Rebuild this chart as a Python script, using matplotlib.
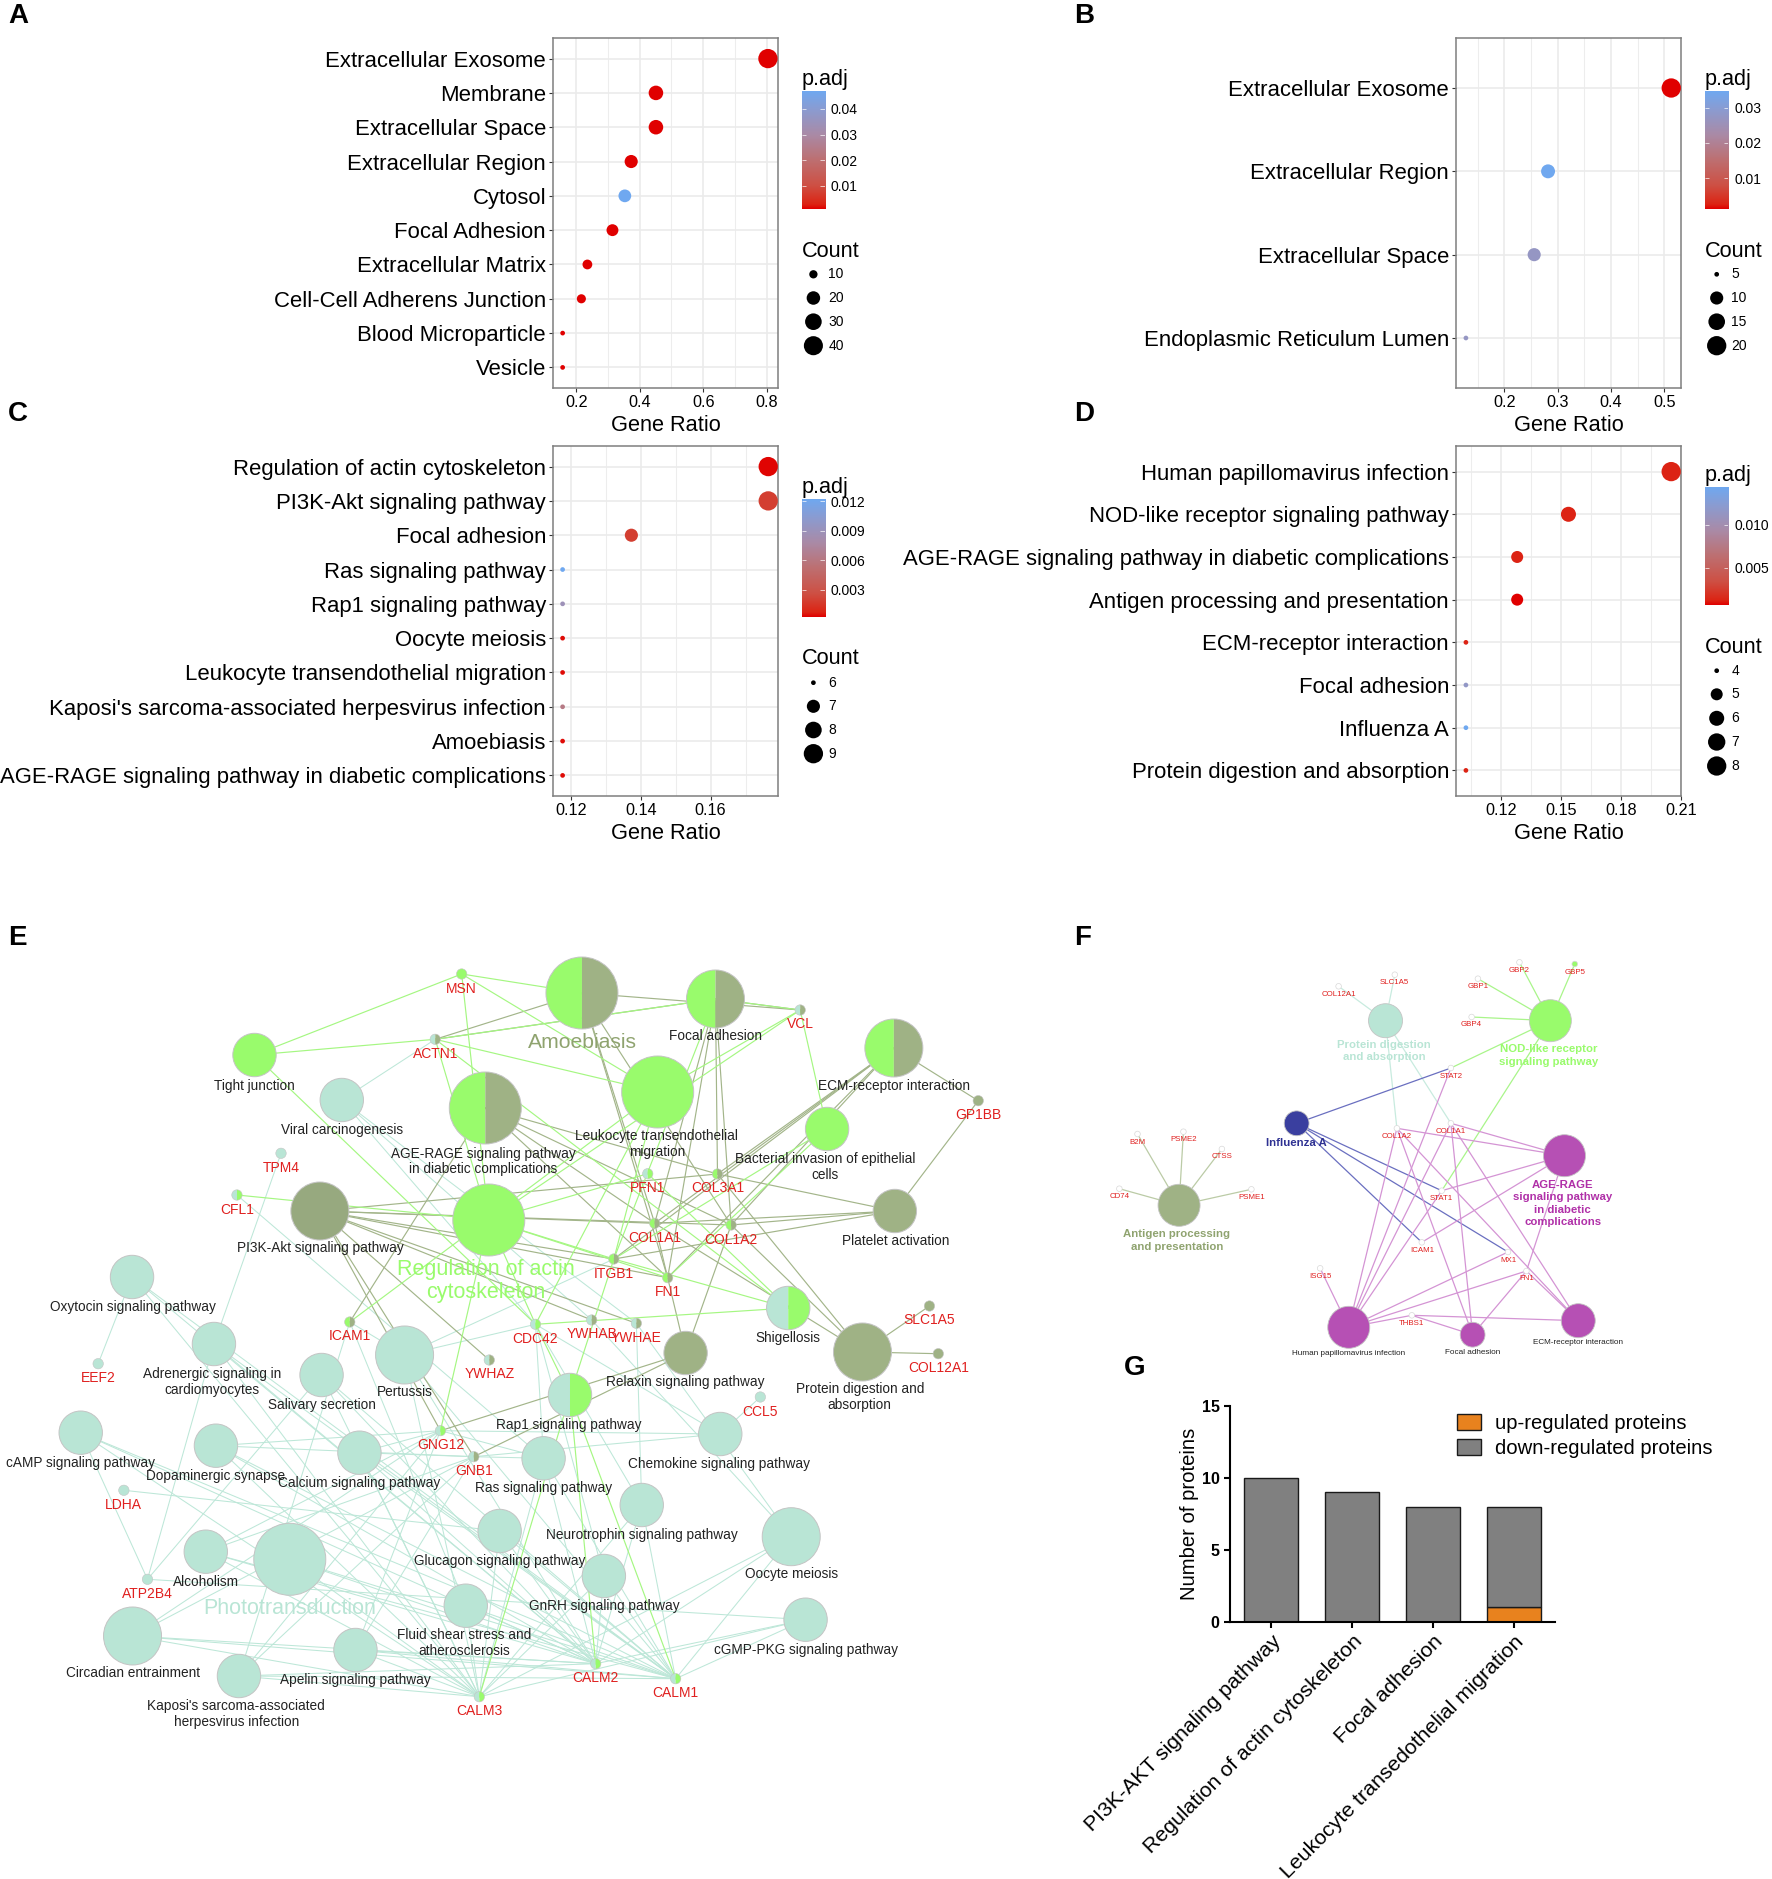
import matplotlib
matplotlib.use('Agg')
import matplotlib.pyplot as plt
import numpy as np
from matplotlib.colors import LinearSegmentedColormap
from matplotlib.patches import Circle, Wedge
from matplotlib.ticker import FixedLocator

plt.rcParams['font.family'] = ['Liberation Sans', 'DejaVu Sans']

W, H = 1772, 1879
RED_BLUE = LinearSegmentedColormap.from_list('padj', [
    (0.0, '#E00000'), (0.04, '#DC2414'), (0.2, '#CE5044'), (0.42, '#BD7072'),
    (0.63, '#AA8AA6'), (0.85, '#8A9CD2'), (1.0, '#6FA8F0')])

# ---- dot plots ----
A_TERMS = ['Extracellular Exosome', 'Membrane', 'Extracellular Space', 'Extracellular Region', 'Cytosol',
           'Focal Adhesion', 'Extracellular Matrix', 'Cell-Cell Adherens Junction', 'Blood Microparticle', 'Vesicle']
A_RATIO = [0.804, 0.451, 0.451, 0.373, 0.353, 0.314, 0.235, 0.216, 0.157, 0.157]
A_COUNT = [41, 23, 23, 19, 18, 16, 12, 11, 8, 8]
A_PADJ = [0.0009, 0.0009, 0.0009, 0.0009, 0.047, 0.0009, 0.0009, 0.0009, 0.0009, 0.0009]

B_TERMS = ['Extracellular Exosome', 'Extracellular Region', 'Extracellular Space', 'Endoplasmic Reticulum Lumen']
B_RATIO = [0.513, 0.282, 0.256, 0.128]
B_COUNT = [20, 11, 10, 5]
B_PADJ = [0.0012, 0.0345, 0.027, 0.027]

C_TERMS = ['Regulation of actin cytoskeleton', 'PI3K-Akt signaling pathway', 'Focal adhesion',
           'Ras signaling pathway', 'Rap1 signaling pathway', 'Oocyte meiosis',
           'Leukocyte transendothelial migration', "Kaposi's sarcoma-associated herpesvirus infection",
           'Amoebiasis', 'AGE-RAGE signaling pathway in diabetic complications']
C_RATIO = [0.1765, 0.1765, 0.1373, 0.1176, 0.1176, 0.1176, 0.1176, 0.1176, 0.1176, 0.1176]
C_COUNT = [9, 9, 7, 6, 6, 6, 6, 6, 6, 6]
C_PADJ = [0.0003, 0.0019, 0.0019, 0.0122, 0.0088, 0.0004, 0.0004, 0.0062, 0.0004, 0.0004]

D_TERMS = ['Human papillomavirus infection', 'NOD-like receptor signaling pathway',
           'AGE-RAGE signaling pathway in diabetic complications', 'Antigen processing and presentation',
           'ECM-receptor interaction', 'Focal adhesion', 'Influenza A', 'Protein digestion and absorption']
D_RATIO = [0.2051, 0.1538, 0.1282, 0.1282, 0.1026, 0.1026, 0.1026, 0.1026]
D_COUNT = [8, 6, 5, 5, 4, 4, 4, 4]
D_PADJ = [0.0012, 0.0012, 0.0012, 0.0006, 0.0012, 0.0115, 0.0143, 0.0012]

# ---- bar chart ----
G_TERMS = ['PI3K-AKT signaling pathway', 'Regulation of actin cytoskeleton',
           'Focal adhesion', 'Leukocyte transedothelial migration']
G_UP = [0, 0, 0, 1]
G_DOWN = [10, 9, 8, 7]

# ---- network E ----
E_NAMES = ['Amoebiasis', 'Focal adhesion', 'Tight junction', 'Viral carcinogenesis', 'AGE-RAGE', 'Leukocyte',
           'ECM', 'Bacterial', 'PI3K', 'Regulation', 'Platelet', 'Oxytocin', 'Adrenergic', 'Salivary',
           'Pertussis', 'Shigellosis', 'Relaxin', 'Protein', 'Rap1', 'cAMP', 'Dopaminergic', 'Calcium',
           'Ras', 'Chemokine', 'Neurotrophin', 'Glucagon', 'Alcoholism', 'Phototransduction', 'Oocyte',
           'GnRH', 'Fluid', 'cGMP', 'Circadian', 'Apelin', 'Kaposi']
E_X = [584, 718, 255.4, 343, 487, 660, 897, 830, 321, 490.5, 898, 132.5, 214.7, 322.7, 406, 791, 688, 865.5,
       572, 81, 216.7, 360.7, 545.5, 722.8, 644, 501.4, 206.5, 290.8, 794, 606, 467.4, 808.4, 133, 356.7, 239.8]
E_Y = [993, 999, 1055, 1100, 1108, 1092, 1048, 1129, 1211, 1220, 1211, 1277, 1344, 1375, 1355, 1308, 1353, 1352,
       1395, 1432.7, 1445.7, 1452.7, 1458.3, 1434, 1505, 1531, 1551.7, 1559.3, 1536.7, 1576, 1605.7, 1619.7,
       1636, 1650, 1676]
E_R = [36, 29, 21.7, 21.7, 36, 36, 29, 21.7, 29, 36, 21.7, 21.7, 21.7, 21.7, 29, 21.7, 21.7, 29,
       21.7, 21.7, 21.7, 21.7, 21.7, 21.7, 21.7, 21.7, 21.7, 36, 29, 21.7, 21.7, 21.7, 29, 21.7, 21.7]
E_FILL = ['go', 'go', 'g', 't', 'go', 'g', 'go', 'g', 'd', 'g', 'o', 't', 't', 't', 't', 'tg', 'o', 'o',
          'tg', 't', 't', 't', 't', 't', 't', 't', 't', 't', 't', 't', 't', 't', 't', 't', 't']

E_LABELS = ['Tight junction', 'Viral carcinogenesis', 'AGE-RAGE signaling pathway\nin diabetic complications',
            'Focal adhesion', 'ECM-receptor interaction', 'Leukocyte transendothelial\nmigration',
            'Bacterial invasion of epithelial\ncells', 'PI3K-Akt signaling pathway', 'Platelet activation',
            'Oxytocin signaling pathway', 'Adrenergic signaling in\ncardiomyocytes', 'Pertussis',
            'Salivary secretion', 'Shigellosis', 'Relaxin signaling pathway', 'Protein digestion and\nabsorption',
            'Rap1 signaling pathway', 'cAMP signaling pathway', 'Dopaminergic synapse', 'Calcium signaling pathway',
            'Ras signaling pathway', 'Chemokine signaling pathway', 'Neurotrophin signaling pathway',
            'Glucagon signaling pathway', 'Alcoholism', 'Oocyte meiosis', 'GnRH signaling pathway',
            'Fluid shear stress and\natherosclerosis', 'cGMP-PKG signaling pathway', 'Circadian entrainment',
            'Apelin signaling pathway', "Kaposi's sarcoma-associated\nherpesvirus infection"]
E_LABEL_X = [255.4, 343, 485, 718, 897, 659, 828, 321, 899, 133, 212.6, 406, 322.7, 791, 687.5, 862.8, 571, 81,
             216.7, 360.7, 545.5, 722, 644, 501.4, 206.5, 794, 606, 465.4, 808.4, 133, 356.7, 237]
E_LABEL_Y = [1085.7, 1129.7, 1161.7, 1036, 1085.7, 1144, 1167, 1248, 1241, 1307, 1382, 1392, 1405, 1338, 1382, 1397,
             1425, 1462.7, 1476, 1483, 1488, 1463.7, 1534.7, 1560.7, 1582, 1574, 1605.7, 1643, 1650, 1673, 1680, 1714]

E_GENES = ['MSN', 'ACTN1', 'VCL', 'TPM4', 'CFL1', 'PFN1', 'COL3A1', 'COL1A1', 'COL1A2', 'GP1BB', 'ITGB1', 'FN1',
           'ICAM1', 'CDC42', 'YWHAB', 'YWHAE', 'YWHAZ', 'SLC1A5', 'COL12A1', 'EEF2', 'CCL5', 'GNG12', 'GNB1',
           'LDHA', 'ATP2B4', 'CALM2', 'CALM1', 'CALM3']
E_GENE_X = [463.3, 436.8, 803, 282, 237.8, 650, 720, 657, 733.7, 981.7, 616, 670, 351, 537.4, 593.8, 638.6, 491,
            932.7, 941.6, 98.5, 763, 442, 475.5, 124.3, 148, 597.8, 678, 481]
E_GENE_Y = [974, 1039.3, 1010, 1153.3, 1195, 1173.7, 1174, 1223.3, 1225, 1100.7, 1259, 1277.7, 1322, 1324.3, 1320,
            1323.3, 1360, 1306, 1353.7, 1363.7, 1397, 1430.7, 1456.7, 1490.3, 1579.3, 1663.7, 1678.7, 1696.7]
E_GENE_FILL = ['g', 'to', 'to', 't', 'tg', 'tg', 'go', 'go', 'go', 'o', 'go', 'go', 'go', 'tg', 'to', 'to', 'to',
               'o', 'o', 't', 't', 'tg', 'to', 't', 't', 'tg', 'tg', 'tg']

CALMS = ['CALM1', 'CALM2', 'CALM3']
E_EDGES_GREEN = {
    'Tight junction': ['MSN', 'ACTN1', 'CDC42'],
    'Regulation': ['MSN', 'ACTN1', 'VCL', 'PFN1', 'CFL1', 'ITGB1', 'FN1', 'CDC42', 'GNG12'],
    'Leukocyte': ['MSN', 'ACTN1', 'VCL', 'ITGB1', 'CDC42', 'ICAM1'],
    'Bacterial': ['VCL', 'ITGB1', 'FN1'],
    'Shigellosis': ['CDC42', 'ITGB1', 'PFN1', 'ACTN1'],
    'Rap1': ['CDC42', 'ITGB1'] + CALMS,
    'Focal adhesion': ['VCL', 'ITGB1', 'ACTN1'],
    'Amoebiasis': ['MSN'],
}
E_EDGES_OLIVE = {
    'Amoebiasis': ['ACTN1', 'VCL', 'COL1A1', 'COL1A2', 'FN1'],
    'Focal adhesion': ['ACTN1', 'VCL', 'COL1A1', 'COL1A2', 'COL3A1', 'FN1'],
    'ECM': ['COL1A1', 'COL1A2', 'COL3A1', 'ITGB1', 'FN1', 'GP1BB'],
    'AGE-RAGE': ['COL1A1', 'COL1A2', 'COL3A1', 'FN1', 'ICAM1'],
    'PI3K': ['COL1A1', 'COL1A2', 'COL3A1', 'ITGB1', 'FN1', 'YWHAB', 'YWHAE', 'YWHAZ', 'GNG12', 'GNB1'],
    'Platelet': ['COL1A1', 'COL1A2', 'COL3A1', 'ITGB1', 'GP1BB'],
    'Relaxin': ['COL1A1', 'COL1A2', 'GNB1', 'GNG12'],
    'Protein': ['COL1A1', 'COL1A2', 'COL3A1', 'COL12A1', 'SLC1A5'],
}
E_EDGES_TEAL = {
    'Viral carcinogenesis': ['ACTN1', 'YWHAB', 'YWHAE', 'CDC42'],
    'Oxytocin': ['EEF2'] + CALMS,
    'Adrenergic': ['TPM4', 'ATP2B4'] + CALMS,
    'Salivary': ['ATP2B4'] + CALMS,
    'Pertussis': ['ICAM1', 'CDC42', 'ITGB1'] + CALMS,
    'cAMP': ['ATP2B4'] + CALMS,
    'Dopaminergic': ['GNG12', 'GNB1'] + CALMS,
    'Calcium': ['GNB1', 'GNG12'] + CALMS,
    'Ras': ['GNG12', 'GNB1', 'CDC42', 'CFL1'] + CALMS,
    'Chemokine': ['CCL5', 'GNG12', 'GNB1', 'CDC42'],
    'Neurotrophin': ['CDC42', 'YWHAE'] + CALMS,
    'Glucagon': ['LDHA'] + CALMS,
    'Alcoholism': ['GNG12', 'GNB1'] + CALMS,
    'Phototransduction': CALMS,
    'Oocyte': ['YWHAB', 'YWHAE'] + CALMS,
    'GnRH': ['CDC42'] + CALMS,
    'Fluid': ['ICAM1'] + CALMS,
    'cGMP': ['ATP2B4'] + CALMS,
    'Circadian': ['GNG12', 'GNB1'] + CALMS,
    'Apelin': ['GNG12', 'GNB1'] + CALMS,
    'Kaposi': ['GNG12', 'GNB1', 'ICAM1'] + CALMS,
}

# ---- network F ----
F_NAMES = ['Protein', 'NOD', 'Influenza', 'AGE-RAGE', 'Antigen', 'HPV', 'Focal', 'ECM']
F_X = [1386.6, 1552, 1297.4, 1566.2, 1179.4, 1349.7, 1474, 1580]
F_Y = [1020.7, 1020.7, 1123.3, 1155.7, 1205.3, 1327.3, 1334.7, 1320.7]
F_R = [17, 21, 12.4, 21, 21, 21, 12.4, 17]
F_COLORS = ['#B9E5D5', '#99FB6C', '#3A3F9F', '#B650B4', '#9FB285', '#B650B4', '#B650B4', '#B650B4']
F_EDGE_COLORS = ['#C8EBDF', '#A9F58A', '#6A6FC0', '#D494D4', '#BBCBA6', '#D494D4', '#D494D4', '#D494D4']

F_GENES = ['COL12A1', 'SLC1A5', 'GBP1', 'GBP2', 'GBP5', 'GBP4', 'STAT2', 'COL1A2', 'COL1A1', 'B2M', 'PSME2', 'CTSS',
           'CD74', 'PSME1', 'STAT1', 'ICAM1', 'MX1', 'FN1', 'ISG15', 'THBS1']
F_GENE_X = [1339.5, 1395.9, 1479.3, 1521, 1576.5, 1473, 1452.2, 1398, 1452.2, 1137.7, 1183.8, 1222.4, 1119.5, 1252,
            1443, 1423, 1509.5, 1528, 1321, 1413]
F_GENE_Y = [986.3, 974.7, 978.7, 962.3, 964, 1017, 1068, 1128.3, 1123.3, 1134, 1131.7, 1149, 1188.7, 1189.3, 1190.7,
            1242.3, 1252, 1271, 1268.3, 1315.3]
F_EDGES = {
    'Protein': ['COL12A1', 'SLC1A5', 'COL1A2', 'COL1A1'],
    'NOD': ['GBP1', 'GBP2', 'GBP4', 'GBP5', 'STAT2', 'STAT1'],
    'Influenza': ['STAT2', 'STAT1', 'ICAM1', 'MX1'],
    'Antigen': ['B2M', 'PSME2', 'CTSS', 'CD74', 'PSME1'],
    'AGE-RAGE': ['COL1A1', 'COL1A2', 'STAT1', 'ICAM1', 'FN1'],
    'HPV': ['ISG15', 'COL1A1', 'COL1A2', 'STAT1', 'STAT2', 'MX1', 'FN1', 'THBS1'],
    'Focal': ['COL1A1', 'COL1A2', 'FN1', 'THBS1'],
    'ECM': ['COL1A1', 'COL1A2', 'FN1', 'THBS1'],
}


def axes_px(fig, left, top, right, bottom, **kw):
    # pixel box of the reference -> figure fractions
    return fig.add_axes([left / W, 1 - bottom / H, (right - left) / W, (bottom - top) / H], **kw)


def dot_size(count, lo, hi):
    # ggplot style area scale, diameter in px turned into points^2
    d = 4.7 + 14.6 * np.sqrt((np.asarray(count, float) - lo) / (hi - lo))
    return (d * 0.72) ** 2


def dot_panel(fig, box, terms, ratio, count, padj, xlim, major, minor, clim, tick_fmt):
    ax = axes_px(fig, *box)
    y = np.arange(len(terms))
    ax.set_axisbelow(True)
    ax.grid(True, which='major', color='#EBEBEB', lw=1.2)
    ax.xaxis.set_minor_locator(FixedLocator(minor))
    ax.grid(True, which='minor', axis='x', color='#EDEDED', lw=0.8)
    ax.scatter(ratio, y, s=dot_size(count, min(count), max(count)), c=padj, cmap=RED_BLUE,
               vmin=clim[0], vmax=clim[1], linewidths=0, clip_on=False, zorder=3)
    ax.set_xlim(*xlim)
    ax.set_ylim(len(terms) - 0.4, -0.6)
    ax.set_yticks(y)
    ax.set_yticklabels(terms, fontsize=15.9)
    ax.set_xticks(major)
    ax.set_xticklabels([tick_fmt % m for m in major], fontsize=11.7)
    ax.tick_params(axis='both', which='major', length=3, width=0.8, color='#333333', pad=2)
    ax.tick_params(axis='x', which='minor', length=0)
    ax.set_xlabel('Gene Ratio', fontsize=15.7, labelpad=3.6)
    for s in ax.spines.values():
        s.set_color('#7F7F7F')
        s.set_linewidth(1.1)
    return ax


def colorbar(fig, box, clim, ticks, tick_fmt):
    ax = axes_px(fig, *box)
    grad = np.linspace(clim[1], clim[0], 256)[:, None]
    ax.imshow(grad, aspect='auto', cmap=RED_BLUE, vmin=clim[0], vmax=clim[1],
              extent=[0, 1, clim[0], clim[1]])
    ax.hlines(ticks, 0, 0.2, color='white', lw=0.6, alpha=0.8)
    ax.hlines(ticks, 0.8, 1, color='white', lw=0.6, alpha=0.8)
    ax.set_xticks([])
    ax.yaxis.tick_right()
    ax.set_yticks(ticks)
    ax.set_yticklabels([tick_fmt % t for t in ticks], fontsize=10)
    ax.tick_params(axis='y', length=0, pad=4.3)
    for s in ax.spines.values():
        s.set_visible(False)


def count_legend(net, x_title, y_title, y_padj, values, ys, lo, hi):
    net.text(x_title, y_padj, 'p.adj', fontsize=15.6, ha='left', va='center')
    net.text(x_title, y_title, 'Count', fontsize=15.7, ha='left', va='center')
    net.scatter([x_title + 11.7] * len(values), ys, s=dot_size(values, lo, hi), c='black', linewidths=0)
    for v, yy in zip(values, ys):
        net.text(x_title + 26.5, yy, str(v), fontsize=10, ha='left', va='center')


def split_node(net, x, y, r, fill, palette, edge='#C4C4C4', lw=0.7, z=4):
    if len(fill) == 1:
        net.add_patch(Circle((x, y), r, fc=palette[fill], ec=edge, lw=lw, zorder=z))
    else:
        net.add_patch(Wedge((x, y), r, 90, 270, fc=palette[fill[0]], ec='none', zorder=z))
        net.add_patch(Wedge((x, y), r, -90, 90, fc=palette[fill[1]], ec='none', zorder=z))
        net.add_patch(Circle((x, y), r, fc='none', ec=edge, lw=lw, zorder=z))


def draw_edges(net, edges, name_xy, gene_xy, color, lw, z=2):
    for term, genes in edges.items():
        tx, ty = name_xy[term]
        for g in genes:
            gx, gy = gene_xy[g]
            net.plot([tx, gx], [ty, gy], color=color, lw=lw, solid_capstyle='round', zorder=z)


fig = plt.figure(figsize=(W / 100, H / 100), dpi=100)

clim_a, clim_b, clim_c, clim_d = (0.0009, 0.047), (0.0012, 0.0347), (0.00022, 0.0122), (0.00063, 0.01435)
dot_panel(fig, (553, 38, 778, 388), A_TERMS, A_RATIO, A_COUNT, A_PADJ, (0.1266, 0.8357),
          [0.2, 0.4, 0.6, 0.8], [0.3, 0.5, 0.7], clim_a, '%.1f')
dot_panel(fig, (1456, 38, 1681, 388), B_TERMS, B_RATIO, B_COUNT, B_PADJ, (0.1094, 0.5313),
          [0.2, 0.3, 0.4, 0.5], [0.15, 0.25, 0.35, 0.45], clim_b, '%.1f')
dot_panel(fig, (553, 446, 778, 796), C_TERMS, C_RATIO, C_COUNT, C_PADJ, (0.11485, 0.1793),
          [0.12, 0.14, 0.16], [0.13, 0.15, 0.17], clim_c, '%.2f')
dot_panel(fig, (1456, 446, 1681, 796), D_TERMS, D_RATIO, D_COUNT, D_PADJ, (0.09765, 0.21),
          [0.12, 0.15, 0.18, 0.21], [0.105, 0.135, 0.165, 0.195], clim_d, '%.2f')

colorbar(fig, (801.7, 91, 825, 209), clim_a, [0.01, 0.02, 0.03, 0.04], '%.2f')
colorbar(fig, (1704.7, 91, 1728.3, 209), clim_b, [0.01, 0.02, 0.03], '%.2f')
colorbar(fig, (801.7, 499.3, 825, 617.3), clim_c, [0.003, 0.006, 0.009, 0.012], '%.3f')
colorbar(fig, (1704.7, 487.3, 1728.3, 605.3), clim_d, [0.005, 0.010], '%.3f')

# bar chart G
ax_g = axes_px(fig, 1230, 1406, 1554.6, 1621.5)
xg = np.arange(len(G_TERMS))
ax_g.bar(xg, G_UP, width=0.663, color='#E8821E', edgecolor='#1A1A1A', lw=1.0, label='up-regulated proteins')
ax_g.bar(xg, G_DOWN, width=0.663, bottom=G_UP, color='#808080', edgecolor='#1A1A1A', lw=1.0,
         label='down-regulated proteins')
ax_g.set_xlim(-0.51, 3.498)
ax_g.set_ylim(0, 15)
ax_g.set_yticks([0, 5, 10, 15])
ax_g.set_yticklabels(['0', '5', '10', '15'], fontsize=11.5, fontweight='bold')
ax_g.set_xticks(xg)
ax_g.set_xticklabels(G_TERMS, fontsize=15.3, rotation=45, ha='right', va='top', rotation_mode='anchor')
ax_g.tick_params(axis='both', length=4.5, width=1.5, pad=3)
ax_g.set_ylabel('Number of proteins', fontsize=14.6, labelpad=2)
for side in ('top', 'right'):
    ax_g.spines[side].set_visible(False)
for side in ('left', 'bottom'):
    ax_g.spines[side].set_linewidth(1.5)
ax_g.legend(loc='upper left', bbox_to_anchor=(1453 / W, 1 - 1410 / H), bbox_transform=fig.transFigure, frameon=False,
            fontsize=14.6, handlelength=1.2, handleheight=0.8, handletextpad=0.65, labelspacing=0.3,
            borderpad=0.2, borderaxespad=0)

# overlay in reference pixels: networks, count legends, panel letters
net = axes_px(fig, 0, 0, W, H)
net.set_xlim(0, W)
net.set_ylim(H, 0)
net.axis('off')
net.patch.set_alpha(0)

count_legend(net, 801.7, 251, 79.3, [10, 20, 30, 40], [274.3, 298, 321.7, 345.7], 8, 41)
count_legend(net, 1705, 251, 79.3, [5, 10, 15, 20], [274.3, 298, 321.7, 345.7], 5, 20)
count_legend(net, 801.7, 658.5, 487, [6, 7, 8, 9], [682.7, 706.3, 730, 753.7], 6, 9)
count_legend(net, 1705, 647.5, 475, [4, 5, 6, 7, 8], [670.7, 694.3, 718.3, 742, 766], 4, 8)

# the zoom crops read slightly wide, pull the network x values in a little
E_XS = 0.9965
ex = np.array(E_X) * E_XS
ex_gene = np.array(E_GENE_X) * E_XS
ex_label = np.array(E_LABEL_X) * E_XS
fx = 1080 + (np.array(F_X) - 1080) * E_XS
fx_gene = 1080 + (np.array(F_GENE_X) - 1080) * E_XS

# network E
E_PAL = {'g': '#99FB6C', 'o': '#9FB285', 'd': '#97A97F', 't': '#B9E5D5'}
e_xy = dict(zip(E_NAMES, zip(ex, E_Y)))
e_gene_xy = dict(zip(E_GENES, zip(ex_gene, E_GENE_Y)))
draw_edges(net, E_EDGES_TEAL, e_xy, e_gene_xy, '#BDE7D8', 0.75, z=1)
draw_edges(net, E_EDGES_OLIVE, e_xy, e_gene_xy, '#A3B58A', 0.85, z=2)
draw_edges(net, E_EDGES_GREEN, e_xy, e_gene_xy, '#A5F782', 0.85, z=3)
for name, x, y, r, fill in zip(E_NAMES, ex, E_Y, E_R, E_FILL):
    split_node(net, x, y, r, fill, E_PAL)
for x, y, fill in zip(ex_gene, E_GENE_Y, E_GENE_FILL):
    split_node(net, x, y, 5.2, fill, E_PAL, lw=0.4)
for txt, x, y in zip(E_LABELS, ex_label, E_LABEL_Y):
    net.text(x, y, txt, fontsize=9.85, ha='center', va='center', color='#222222', zorder=6, linespacing=1.1)
for g, x, y in zip(E_GENES, ex_gene, E_GENE_Y):
    net.text(x, y + 14.5, g, fontsize=10, ha='center', va='center', color='#E0201F', zorder=6)
net.text(582, 1042, 'Amoebiasis', fontsize=15.2, color='#8FA36F', ha='center', va='center', zorder=6)
net.text(486, 1281, 'Regulation of actin\ncytoskeleton', fontsize=15.5, color='#99FB6C', ha='center', va='center',
         zorder=6, linespacing=1.15)
net.text(289.5, 1609, 'Phototransduction', fontsize=15.5, color='#B9E5D5', ha='center', va='center', zorder=6)

# network F
f_xy = dict(zip(F_NAMES, zip(fx, F_Y)))
f_gene_xy = dict(zip(F_GENES, zip(fx_gene, F_GENE_Y)))
f_edge_col = dict(zip(F_NAMES, F_EDGE_COLORS))
for term, genes in F_EDGES.items():
    draw_edges(net, {term: genes}, f_xy, f_gene_xy, f_edge_col[term], 0.9)
for x, y, r, c in zip(fx, F_Y, F_R, F_COLORS):
    net.add_patch(Circle((x, y), r, fc=c, ec='#C4C4C4', lw=0.6, zorder=4))
for g, x, y in zip(F_GENES, fx_gene, F_GENE_Y):
    net.add_patch(Circle((x, y), 2.8, fc='#99FB6C' if g == 'GBP5' else 'white', ec='#D8D8D8', lw=0.5, zorder=4))
    net.text(x, y + 8, g, fontsize=5.7, ha='center', va='center', color='#E0201F', zorder=6)
for txt, x, y, c in [('Protein digestion\nand absorption', 1384, 1051, '#B9E5D5'),
                     ('NOD-like receptor\nsignaling pathway', 1548.5, 1055.5, '#99FB6C'),
                     ('Influenza A', 1296.7, 1143.3, '#2E3192'),
                     ('AGE-RAGE\nsignaling pathway\nin diabetic\ncomplications', 1562.8, 1203.5, '#B030A8'),
                     ('Antigen processing\nand presentation', 1177, 1240.5, '#8FA36F')]:
    net.text(x, y, txt, fontsize=8.2, fontweight='bold', ha='center', va='center', color=c, zorder=6,
             linespacing=1.3)
for txt, x, y in [('Human papillomavirus infection', 1348.7, 1353.7), ('Focal adhesion', 1472.6, 1352.3),
                  ('ECM-receptor interaction', 1578.2, 1342.3)]:
    net.text(x, y, txt, fontsize=5.9, ha='center', va='center', color='#222222', zorder=6)

# panel letters
for letter, x, y in [('A', 8, 16), ('B', 1074, 16), ('C', 8, 414), ('D', 1074, 414),
                     ('E', 8, 938), ('F', 1074, 938), ('G', 1124, 1368)]:
    net.text(x, y, letter, fontsize=20, fontweight='bold', ha='left', va='center', zorder=7)

fig.savefig('out.png', dpi=100)
